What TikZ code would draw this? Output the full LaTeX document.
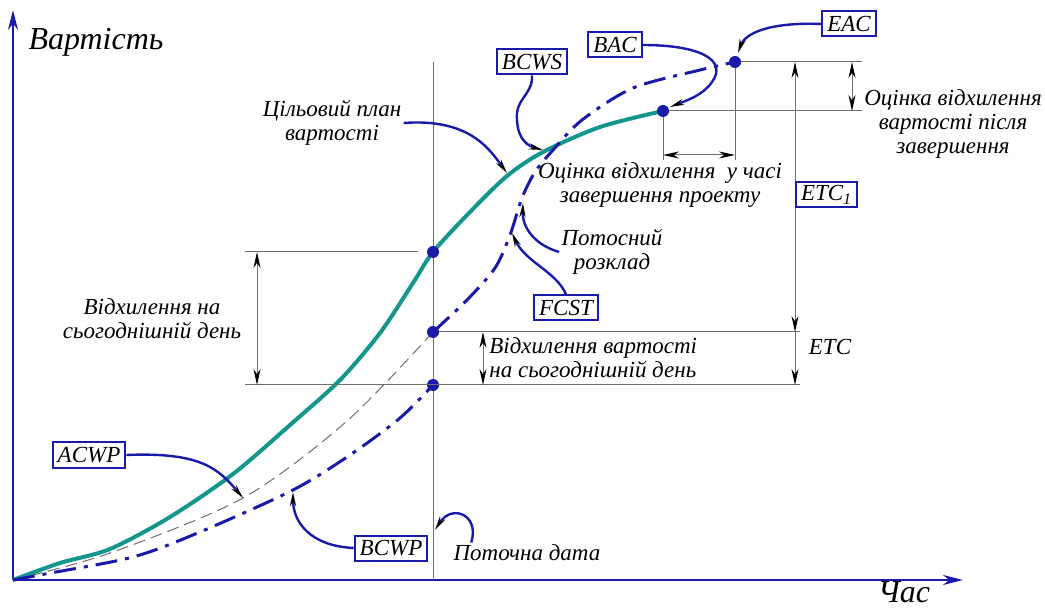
\documentclass[tikz,border=0pt]{standalone}
\usepackage{fontspec}
\setmainfont{Liberation Serif}
\usetikzlibrary{arrows.meta}
\definecolor{curveteal}{RGB}{20,150,140}
\definecolor{linkblue}{RGB}{25,25,170}
\definecolor{dimgray}{RGB}{110,110,110}
\begin{document}
\begin{tikzpicture}[
    x=0.5pt, y=-0.5pt,
    tag/.style={rectangle, draw=linkblue, line width=1pt, fill=white, inner xsep=2.5pt, inner ysep=1.5pt, minimum height=12.5pt, font=\itshape\fontsize{11.5}{12}\selectfont},
    note/.style={align=center, inner sep=1pt, font=\itshape\fontsize{11.5}{12}\selectfont},
    pointer/.style={draw=linkblue, line width=1.2pt, -{Stealth[black, length=7pt, width=3pt]}},
    axis/.style={draw=linkblue, line width=1.4pt, -{Stealth[length=10pt, width=5pt]}},
    dimline/.style={draw=dimgray, line width=0.5pt},
    dimarrow/.style={dimline, {Stealth[black, length=8pt, width=3.5pt]}-{Stealth[black, length=8pt, width=3.5pt]}},
    bullet/.style={circle, fill=linkblue, inner sep=0pt, minimum size=6pt},
    plan/.style={curveteal, line width=2pt},
    fact/.style={linkblue, line width=1.5pt, dash pattern=on 11pt off 4pt on 2pt off 4pt},
    earned/.style={dimgray, line width=0.5pt, dash pattern=on 6pt off 3pt}
]
    \useasboundingbox (0,0) rectangle (1045,609);

    % Axes
    \coordinate (origin) at (13,580);
    \coordinate (ytip) at (13,10);
    \coordinate (xtip) at (963,580);
    \draw [axis] (origin) -- (ytip);
    \draw [axis] (origin) -- (xtip);
    \node [note, font=\itshape\fontsize{16}{16}\selectfont] (cost) at (96,42) {Вартість};
    \node [note, font=\itshape\fontsize{16}{16}\selectfont] (time) at (904,592) {Час};

    % Reporting date line
    \coordinate (dtop) at (433,62);
    \coordinate (dbot) at (433,580);
    \draw [dimline] (dtop) -- (dbot);

    % Curves
    \draw [earned] plot [smooth] coordinates {(13,580) (110,553) (243,498) (347,421) (433,332)};
    \draw [plan] plot [smooth] coordinates {(13,580) (60,563) (110,549) (170,517) (233,474) (290,425) (340,380) (380,333) (413,283) (433,252) (470,212) (507,176) (543,152) (600,127) (663,111)};
    \draw [fact] plot [smooth] coordinates {(13,580) (45,574) (133,557) (200,532) (293,490) (350,455) (400,418) (433,385)};
    \draw [fact] plot [smooth] coordinates {(433,332) (467,300) (495,268) (510,235) (522,198) (535,172) (553,150) (582,120) (633,88) (700,70) (735,62)};

    % Points
    \node [bullet] (pv) at (433,252) {};
    \node [bullet] (ac) at (433,332) {};
    \node [bullet] (ev) at (433,385) {};
    \node [bullet] (bac) at (663,111) {};
    \node [bullet] (eac) at (735,62) {};

    % Extension lines
    \coordinate (pvleft) at (245,252);
    \coordinate (pvend) at (418,252);
    \coordinate (evleft) at (245,385);
    \coordinate (evright) at (800,385);
    \coordinate (acright) at (800,332);
    \coordinate (eacright) at (862,62);
    \coordinate (bacright) at (862,111);
    \coordinate (bacdown) at (663,160);
    \coordinate (eacdown) at (735,160);
    \draw [dimline] (pvleft) -- (pvend);
    \draw [dimline] (evleft) -- (evright);
    \draw [dimline] (ac) -- (acright);
    \draw [dimline] (eac) -- (eacright);
    \draw [dimline] (bac) -- (bacright);
    \draw [dimline] (bac) -- (bacdown);
    \draw [dimline] (eac) -- (eacdown);

    % Dimension arrows
    \coordinate (d1a) at (257,252);
    \coordinate (d1b) at (257,385);
    \coordinate (d2a) at (483,332);
    \coordinate (d2b) at (483,385);
    \coordinate (d3a) at (852,62);
    \coordinate (d3b) at (852,111);
    \coordinate (d4a) at (663,155);
    \coordinate (d4b) at (735,155);
    \coordinate (d5a) at (795,62);
    \coordinate (d5b) at (795,332);
    \coordinate (d5c) at (795,385);
    \draw [dimarrow] (d1a) -- (d1b);
    \draw [dimarrow] (d2a) -- (d2b);
    \draw [dimarrow] (d3a) -- (d3b);
    \draw [dimarrow] (d4a) -- (d4b);
    \draw [dimarrow] (d5a) -- (d5b);
    \draw [dimline, -{Stealth[black, length=8pt, width=3.5pt]}] (d5b) -- (d5c);

    % Labels
    \node [note] (plantxt) at (332,123) {Цільовий план\\вартості};
    \node [note] (aftertxt) at (953,124) {Оцінка відхилення\\вартості після\\завершення};
    \node [note] (timetxt) at (660,185) {Оцінка відхилення \ у часі\\завершення проекту};
    \node [note] (schedtxt) at (612,252) {Потосний\\розклад};
    \node [note] (todaytxt) at (152,319) {Відхилення на\\сьогоднішній день};
    \node [note, align=left, anchor=west] (costtxt) at (487,358) {Відхилення вартості\\на сьогоднішній день};
    \node [note] (etclbl) at (830,347) {ETC};
    \node [note] (datetxt) at (527,553) {Поточна дата};

    % Boxed labels
    \node [tag] (bcws) at (532,62) {BCWS};
    \node [tag] (baclbl) at (615,45) {BAC};
    \node [tag] (eaclbl) at (849,24) {EAC};
    \node [tag, anchor=west] (etc1) at (795,195) {ETC\textsubscript{1}};
    \node [tag] (fcst) at (566,308) {FCST};
    \node [tag] (acwp) at (89,455) {ACWP};
    \node [tag] (bcwp) at (391,548) {BCWP};

    % Pointer targets
    \coordinate (planhit) at (507,173);
    \coordinate (bcwshit) at (543,150);
    \coordinate (bachit) at (670,107);
    \coordinate (eachit) at (738,53);
    \coordinate (schedhit) at (523,203);
    \coordinate (fcsthit) at (512,233);
    \coordinate (acwphit) at (243,498);
    \coordinate (bcwphit) at (293,492);
    \coordinate (datehit) at (435,530);

    % Pointers
    \draw [pointer] (plantxt.east) .. controls (470,118) and (490,150) .. (planhit);
    \draw [pointer] (bcws.south) .. controls (533,95) and (515,98) .. (517,120) .. controls (518,140) and (528,146) .. (bcwshit);
    \draw [pointer] (baclbl.east) .. controls (700,45) and (728,60) .. (712,82) .. controls (703,95) and (688,100) .. (bachit);
    \draw [pointer] (eaclbl.west) .. controls (770,22) and (745,33) .. (eachit);
    \draw [pointer] (schedtxt.west) .. controls (535,245) and (522,228) .. (schedhit);
    \draw [pointer] (fcst.north) .. controls (557,272) and (525,262) .. (fcsthit);
    \draw [pointer] (acwp.east) .. controls (200,452) and (218,468) .. (acwphit);
    \draw [pointer] (bcwp.west) .. controls (310,546) and (293,522) .. (bcwphit);
    \draw [pointer] ([xshift=10pt]datetxt.north west) .. controls (480,515) and (452,503) .. (datehit);
\end{tikzpicture}
\end{document}
